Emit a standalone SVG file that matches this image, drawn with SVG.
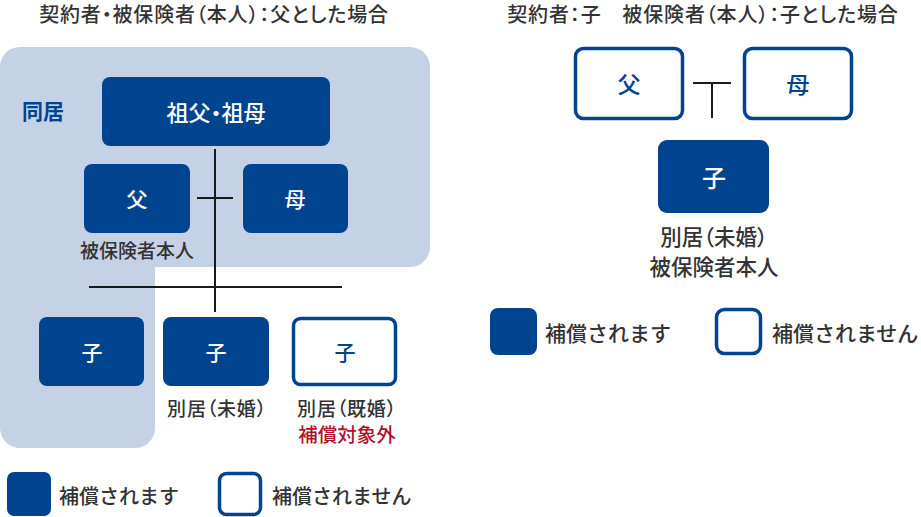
<svg xmlns="http://www.w3.org/2000/svg" width="921" height="517" viewBox="0 0 921 517">
<style>
text{font-family:"Noto Sans CJK JP","Noto Sans",sans-serif;text-anchor:middle;dominant-baseline:central;font-weight:500;font-feature-settings:"palt"}
.t{fill:#333;font-size:20px;letter-spacing:0.85px}
.lbl{fill:#333;font-size:19px}
.lbl2{fill:#333;font-size:21.5px}
.w{fill:#fff;font-size:21px}
.b{fill:#00438f;font-size:21px}
.fill{fill:#00438f}
.out{fill:#fff;stroke:#00438f;stroke-width:3.5}
.ln{stroke:#1a1a1a;stroke-width:2;fill:none}
.red{fill:#b0102a;font-size:19.5px}
.lg{fill:#333;font-size:20px;text-anchor:start;font-feature-settings:normal}
.lg2{fill:#333;font-size:21px;text-anchor:start;font-feature-settings:normal}
</style>
<rect width="921" height="517" fill="#fff"/>
<text class="t" x="214" y="13">契約者・被保険者（本人）：父とした場合</text>
<text class="t" x="703" y="13">契約者：子　被保険者（本人）：子とした場合</text>
<path id="bg" d="M20 47 H410 A20 20 0 0 1 430 67 V247 A20 20 0 0 1 410 267 H155 V428 A20 20 0 0 1 135 448 H20 A20 20 0 0 1 0 428 V67 A20 20 0 0 1 20 47 Z" fill="#c5d1e5"/>
<text x="43" y="110" style="fill:#00438f;font-size:21px;font-weight:bold">同居</text>
<g id="connectors">
<line class="ln" x1="215" y1="149" x2="215" y2="312"/>
<line class="ln" x1="197" y1="198" x2="233" y2="198"/>
<line class="ln" x1="89" y1="287" x2="342" y2="287"/>
<line class="ln" x1="693" y1="83" x2="731" y2="83"/>
<line class="ln" x1="712" y1="83" x2="712" y2="118"/>
</g>
<g id="grandparents"><rect class="fill" x="102" y="77" width="228" height="69" rx="8"/><text class="w" x="216" y="111" style="font-size:22px">祖父・祖母</text></g>
<g id="father"><rect class="fill" x="84" y="164" width="106" height="69" rx="8"/><text class="w" x="137" y="198">父</text><text class="lbl" x="137" y="249">被保険者本人</text></g>
<g id="mother"><rect class="fill" x="243" y="164" width="105" height="69" rx="8"/><text class="w" x="295" y="198">母</text></g>
<g id="child1"><rect class="fill" x="39" y="317" width="105" height="69" rx="8"/><text class="w" x="92" y="351">子</text></g>
<g id="child2"><rect class="fill" x="163" y="317" width="106" height="69" rx="8"/><text class="w" x="216" y="351">子</text><text class="lbl" x="217" y="407" style="letter-spacing:0.8px">別居（未婚）</text></g>
<g id="child3"><rect class="out" x="293.5" y="318.5" width="102" height="66" rx="7"/><text class="b" x="345" y="351">子</text><text class="lbl" x="347" y="407" style="letter-spacing:0.8px">別居（既婚）</text><text class="red" x="347" y="433">補償対象外</text></g>
<g id="legend-left">
<rect class="fill" x="7" y="472" width="44" height="44" rx="7"/><text class="lg" x="59" y="495">補償されます</text>
<rect class="out" x="219.5" y="473.5" width="41" height="41" rx="7"/><text class="lg" x="272" y="495">補償されません</text>
</g>
<g id="r-father"><rect class="out" x="575.5" y="48.5" width="107" height="70" rx="8"/><text class="b" x="629" y="83" style="font-size:23px">父</text></g>
<g id="r-mother"><rect class="out" x="744.5" y="48.5" width="107" height="70" rx="8"/><text class="b" x="798" y="83" style="font-size:23px">母</text></g>
<g id="r-child"><rect class="fill" x="658" y="140" width="111" height="73" rx="9"/><text class="w" x="714" y="176" style="font-size:24px">子</text><text class="lbl2" x="714" y="235">別居（未婚）</text><text class="lbl2" x="714" y="265">被保険者本人</text></g>
<g id="legend-right">
<rect class="fill" x="490" y="308" width="47" height="47" rx="8"/><text class="lg2" x="545" y="332">補償されます</text>
<rect class="out" x="716.5" y="309.5" width="44" height="44" rx="8"/><text class="lg2" x="772" y="332">補償されません</text>
</g>
</svg>
